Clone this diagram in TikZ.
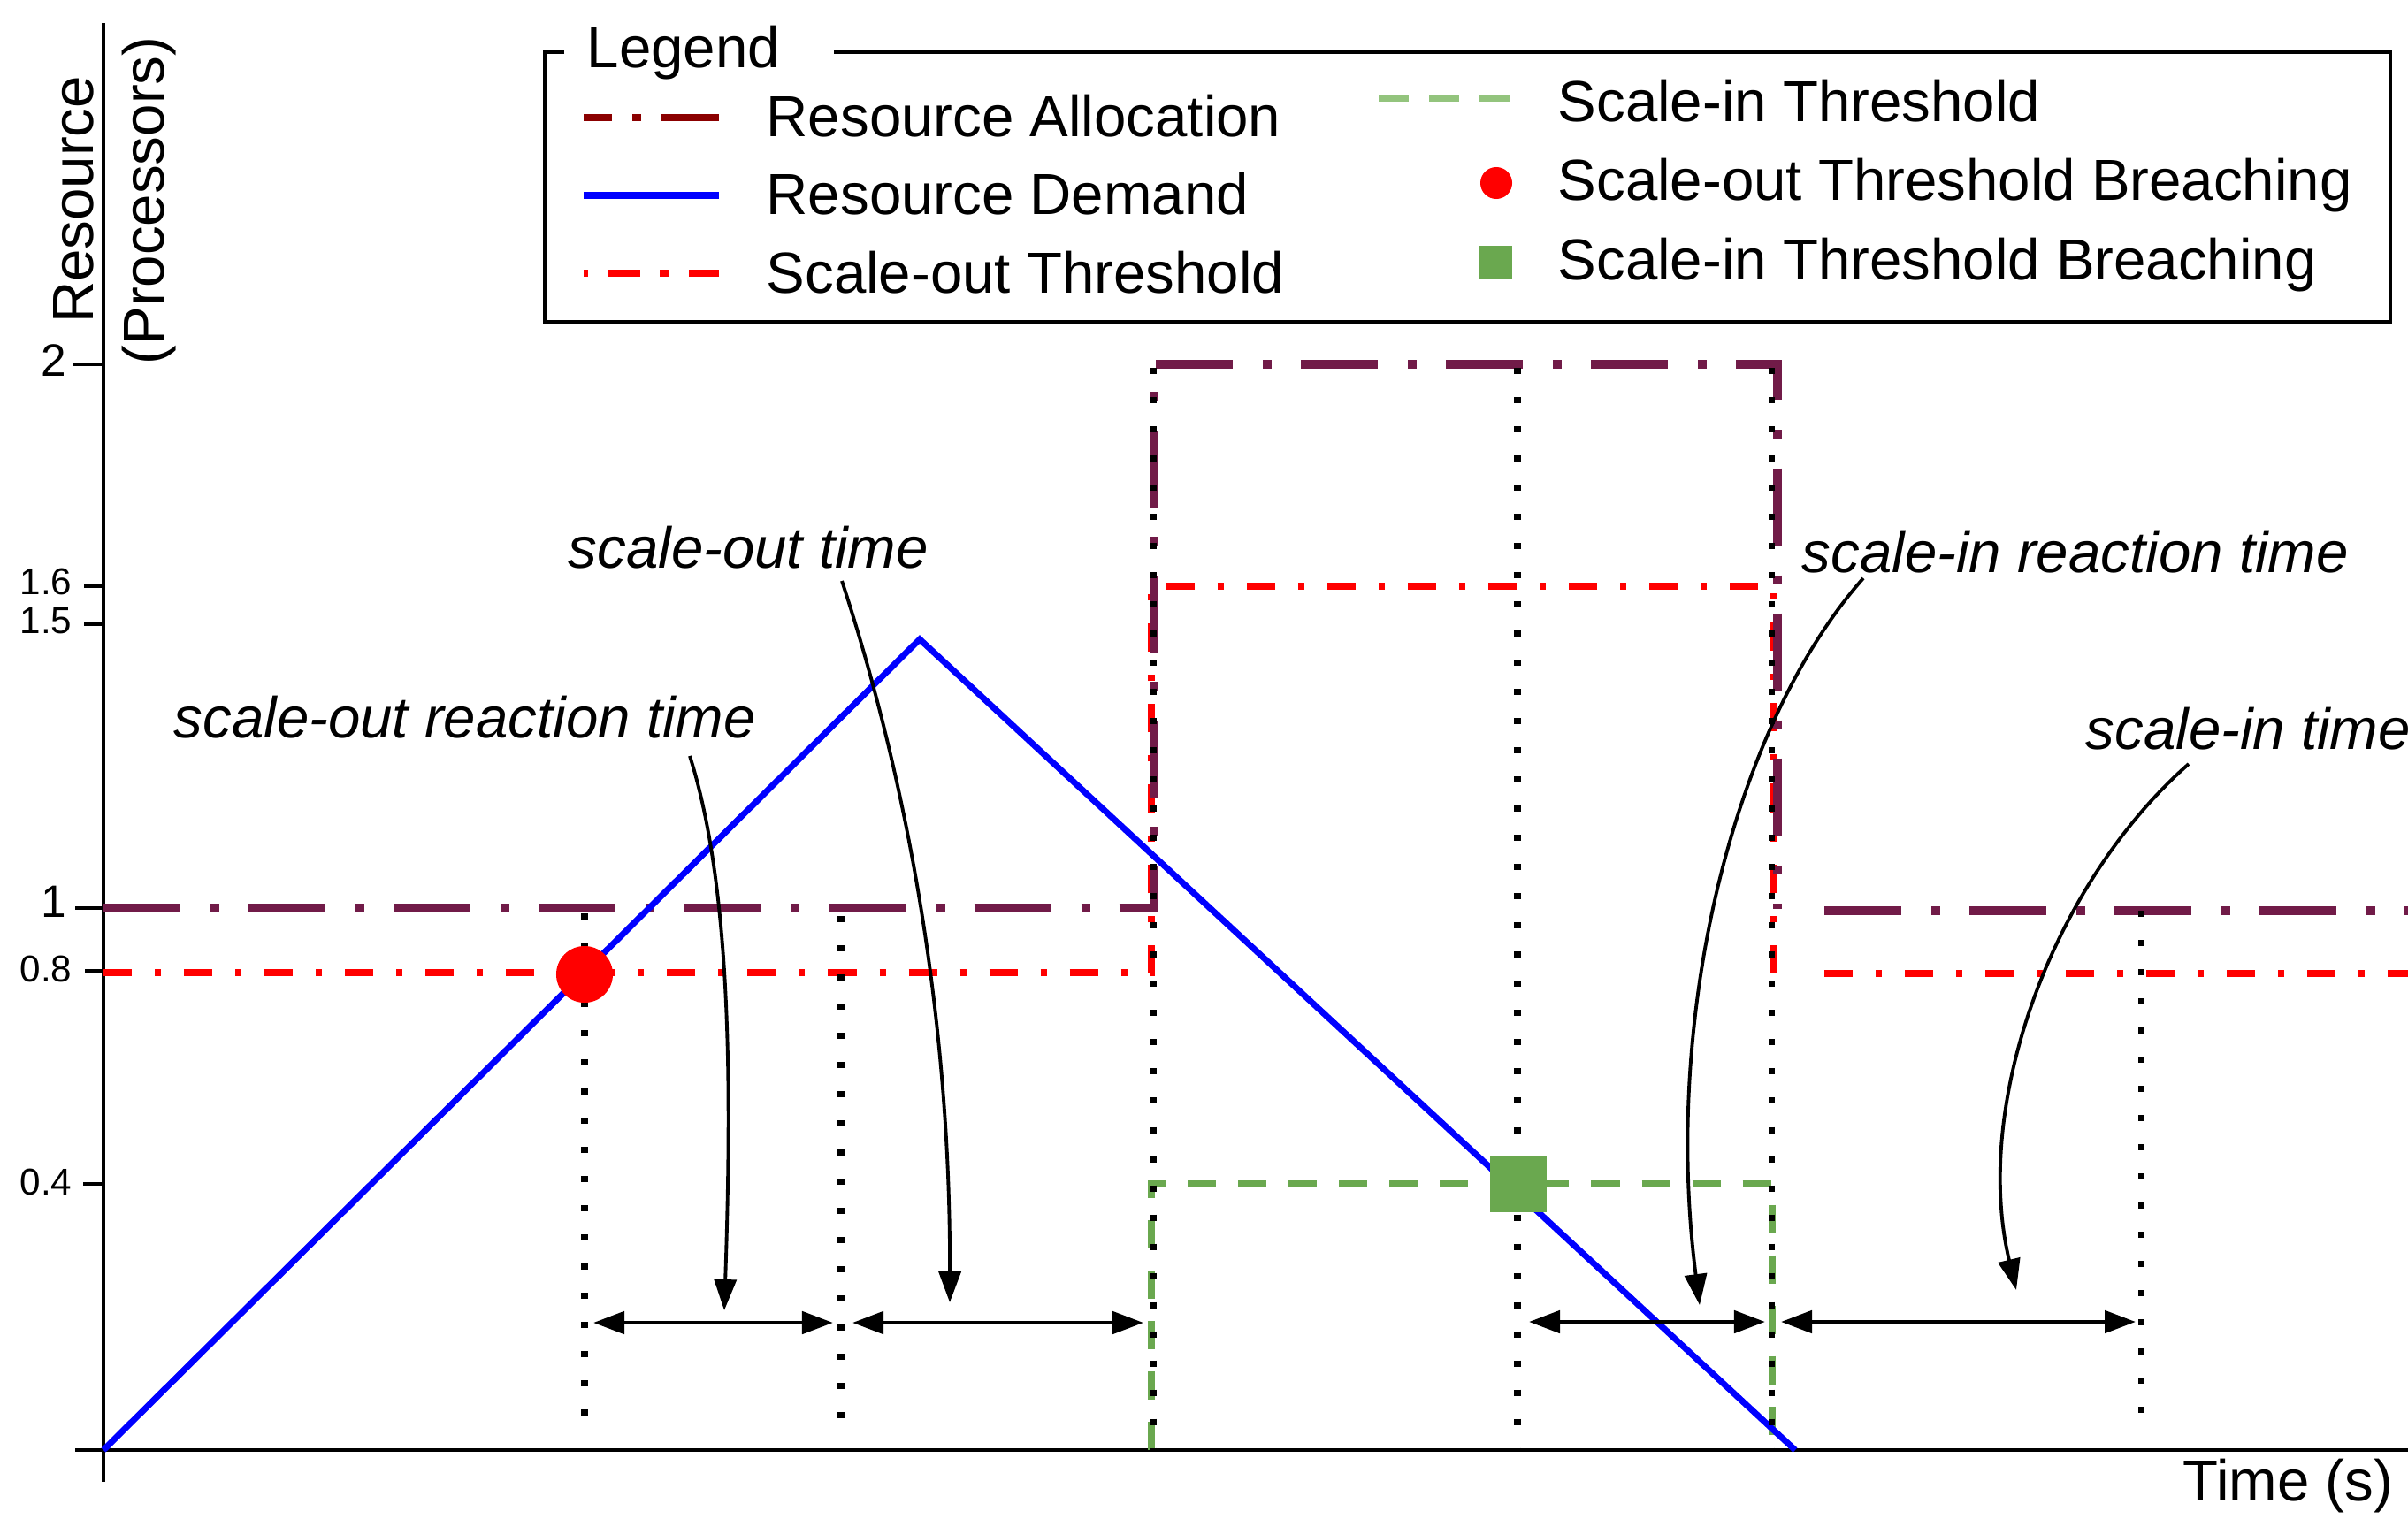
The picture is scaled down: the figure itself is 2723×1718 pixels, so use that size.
\documentclass[tikz,border=0pt]{standalone}
\usepackage{fontspec}
\setmainfont{Liberation Sans}
\usetikzlibrary{arrows.meta}
\definecolor{allocpurple}{RGB}{113,27,72}
\definecolor{allocdark}{RGB}{139,0,0}
\definecolor{ingreen}{RGB}{106,168,79}
\definecolor{inlight}{RGB}{147,196,125}
\tikzset{
  allocline/.style={draw=allocpurple, line width=2.85pt, dash pattern=on 0.87cm off 0.34cm on 0.1cm off 0.33cm},
  outline/.style={draw=red, line width=2.3pt, dash pattern=on 0.32cm off 0.26cm on 0.07cm off 0.26cm},
  inline/.style={draw=ingreen, line width=2.3pt, dash pattern=on 0.32cm off 0.25cm},
  demandline/.style={draw=blue, line width=2pt},
  guideline/.style={draw=black, line width=2pt, dash pattern=on 0.07cm off 0.26cm},
  spanarrow/.style={draw=black, line width=1.4pt, {Triangle[length=0.35cm,width=0.25cm]}-{Triangle[length=0.35cm,width=0.25cm]}},
  curvearrow/.style={draw=black, line width=1.1pt, -{Triangle[length=0.35cm,width=0.25cm]}},
  lbl/.style={font=\fontsize{18.6}{22}\selectfont, inner sep=0pt, anchor=base west},
  notetext/.style={font=\fontsize{18.6}{22}\selectfont\itshape, inner sep=0pt, anchor=base west},
  bigtick/.style={font=\fontsize{14.6}{17}\selectfont, inner sep=0pt, anchor=east},
  smalltick/.style={font=\fontsize{12}{14}\selectfont, inner sep=0pt, anchor=east},
  axisline/.style={draw=black, line width=1.4pt},
}
\begin{document}
\begin{tikzpicture}[x=0.01cm,y=-0.01cm]
\useasboundingbox (0,0) rectangle (2723,1718);

% ---- axes
\coordinate (ytop) at (117,26);
\coordinate (ybot) at (117,1676);
\coordinate (xleft) at (85,1640);
\coordinate (xright) at (2723,1640);
\draw[axisline] (ytop) -- (ybot);
\draw[axisline] (xleft) -- (xright);

% ticks
\coordinate (t2a) at (83,412);   \coordinate (t2b) at (117,412);
\coordinate (t16a) at (95,663);  \coordinate (t16b) at (117,663);
\coordinate (t15a) at (95,706);  \coordinate (t15b) at (117,706);
\coordinate (t1a) at (85,1027);  \coordinate (t1b) at (117,1027);
\coordinate (t08a) at (96,1098); \coordinate (t08b) at (117,1098);
\coordinate (t04a) at (94,1339); \coordinate (t04b) at (117,1339);
\draw[axisline] (t2a) -- (t2b);
\draw[axisline] (t16a) -- (t16b);
\draw[axisline] (t15a) -- (t15b);
\draw[axisline] (t1a) -- (t1b);
\draw[axisline] (t08a) -- (t08b);
\draw[axisline] (t04a) -- (t04b);

\node[bigtick] (l2) at (76,408) {2};
\node[smalltick] (l16) at (82,658) {1.6};
\node[smalltick] (l15) at (82,702) {1.5};
\node[bigtick] (l1) at (76,1020) {1};
\node[smalltick] (l08) at (82,1096) {0.8};
\node[smalltick] (l04) at (82,1337) {0.4};

\node[font=\fontsize{18.6}{22}\selectfont, inner sep=0pt, rotate=90, anchor=base] (ylab1) at (105,226) {Resource};
\node[font=\fontsize{18.6}{22}\selectfont, inner sep=0pt, rotate=90, anchor=base] (ylab2) at (185,227) {(Processors)};
\node[lbl] (xlab) at (2468,1697) {Time (s)};

% ---- scale-in threshold (green)
\coordinate (g1) at (1302,1640);
\coordinate (g2) at (1302,1339);
\coordinate (g3) at (2004,1339);
\coordinate (g4) at (2004,1640);
\draw[inline] (g1) -- (g2) -- (g3) -- (g4);

% ---- scale-out threshold (red)
\coordinate (r1) at (117,1100);
\coordinate (r2) at (1302,1100);
\coordinate (r3) at (1302,663);
\coordinate (r4) at (2006,663);
\coordinate (r5) at (2006,1101);
\coordinate (r6) at (2063,1101);
\coordinate (r7) at (2723,1101);
\draw[outline] (r1) -- (r2) -- (r3) -- (r4) -- (r5);
\draw[outline] (r6) -- (r7);

% ---- resource allocation (purple)
\coordinate (a1) at (117,1027);
\coordinate (a2) at (1305,1027);
\coordinate (a3) at (1305,412);
\coordinate (a4) at (2010,412);
\coordinate (a5) at (2010,1028);
\coordinate (a6) at (2063,1030);
\coordinate (a7) at (2723,1030);
\draw[allocline] (a1) -- (a2) -- (a3) -- (a4) -- (a5);
\draw[allocline] (a6) -- (a7);

% ---- resource demand (blue)
\coordinate (d0) at (117,1640);
\coordinate (dpeak) at (1040,723);
\coordinate (dend) at (2030,1640);
\draw[demandline] (d0) -- (dpeak) -- (dend);

% ---- dotted guides
\coordinate (v1a) at (661,1033);  \coordinate (v1b) at (661,1628);
\coordinate (v2a) at (951,1036);  \coordinate (v2b) at (951,1628);
\coordinate (v3a) at (1304,416);  \coordinate (v3b) at (1304,1640);
\coordinate (v4a) at (1716,416);  \coordinate (v4b) at (1716,1640);
\coordinate (v5a) at (2003,416);  \coordinate (v5b) at (2003,1640);
\coordinate (v6a) at (2421,1030); \coordinate (v6b) at (2421,1612);
\draw[guideline] (v1a) -- (v1b);
\draw[guideline] (v2a) -- (v2b);
\draw[guideline] (v3a) -- (v3b);
\draw[guideline] (v4a) -- (v4b);
\draw[guideline] (v5a) -- (v5b);
\draw[guideline] (v6a) -- (v6b);

% ---- breaching markers
\node[circle, fill=red, inner sep=0pt, minimum size=0.64cm] (outbreach) at (661,1102) {};
\node[rectangle, fill=ingreen, inner sep=0pt, minimum size=0.64cm] (inbreach) at (1717,1339) {};

% ---- span arrows
\coordinate (s1a) at (671,1496);  \coordinate (s1b) at (942,1496);
\coordinate (s2a) at (964,1496);  \coordinate (s2b) at (1293,1496);
\coordinate (s3a) at (1729,1495); \coordinate (s3b) at (1996,1495);
\coordinate (s4a) at (2014,1495); \coordinate (s4b) at (2415,1495);
\draw[spanarrow] (s1a) -- (s1b);
\draw[spanarrow] (s2a) -- (s2b);
\draw[spanarrow] (s3a) -- (s3b);
\draw[spanarrow] (s4a) -- (s4b);

% ---- annotation labels
\node[notetext] (nsort) at (196,834) {scale-out reaction time};
\node[notetext] (nsot) at (642,642) {scale-out time};
\node[notetext] (nsirt) at (2037,647) {scale-in reaction time};
\node[notetext] (nsit) at (2358,847) {scale-in time};

\coordinate (c1s) at (780,855);   \coordinate (c1e) at (819,1482);
\coordinate (c2s) at (952,657);   \coordinate (c2e) at (1074,1473);
\coordinate (c3s) at (2107,654);  \coordinate (c3e) at (1922,1476);
\coordinate (c4s) at (2475,864);  \coordinate (c4e) at (2280,1459);
\draw[curvearrow] (c1s) .. controls (826,1000) and (828,1220) .. (c1e);
\draw[curvearrow] (c2s) .. controls (1025,880) and (1075,1150) .. (c2e);
\draw[curvearrow] (c3s) .. controls (1960,820) and (1880,1150) .. (c3e);
\draw[curvearrow] (c4s) .. controls (2320,1000) and (2230,1250) .. (c4e);

% ---- legend
\coordinate (b1) at (638,59);
\coordinate (b2) at (616,59);
\coordinate (b3) at (616,364);
\coordinate (b4) at (2703,364);
\coordinate (b5) at (2703,59);
\coordinate (b6) at (943,59);
\draw[axisline] (b1) -- (b2) -- (b3) -- (b4) -- (b5) -- (b6);
\node[lbl] (legtitle) at (663,76) {Legend};

\coordinate (k1a) at (660,133); \coordinate (k1b) at (813,133);
\coordinate (k2a) at (660,221); \coordinate (k2b) at (813,221);
\coordinate (k3a) at (660,309); \coordinate (k3b) at (813,309);
\coordinate (k4a) at (1559,111); \coordinate (k4b) at (1707,111);
\draw[draw=allocdark, line width=2.3pt, dash pattern=on 0.32cm off 0.23cm on 0.1cm off 0.22cm on 0.7cm] (k1a) -- (k1b);
\draw[draw=blue, line width=2.2pt] (k2a) -- (k2b);
\draw[draw=red, line width=2.3pt, dash pattern=on 0.05cm off 0.23cm on 0.36cm off 0.22cm on 0.1cm off 0.23cm on 0.34cm] (k3a) -- (k3b);
\draw[draw=inlight, line width=2.3pt, dash pattern=on 0.34cm off 0.23cm] (k4a) -- (k4b);
\node[circle, fill=red, inner sep=0pt, minimum size=0.36cm] (k5) at (1692,207) {};
\node[rectangle, fill=ingreen, inner sep=0pt, minimum size=0.38cm] (k6) at (1691,297) {};

\node[lbl] (e1) at (866,154) {Resource Allocation};
\node[lbl] (e2) at (866,242) {Resource Demand};
\node[lbl] (e3) at (866,331) {Scale-out Threshold};
\node[lbl] (e4) at (1761,137) {Scale-in Threshold};
\node[lbl] (e5) at (1761,226) {Scale-out Threshold Breaching};
\node[lbl] (e6) at (1761,316) {Scale-in Threshold Breaching};
\end{tikzpicture}
\end{document}
